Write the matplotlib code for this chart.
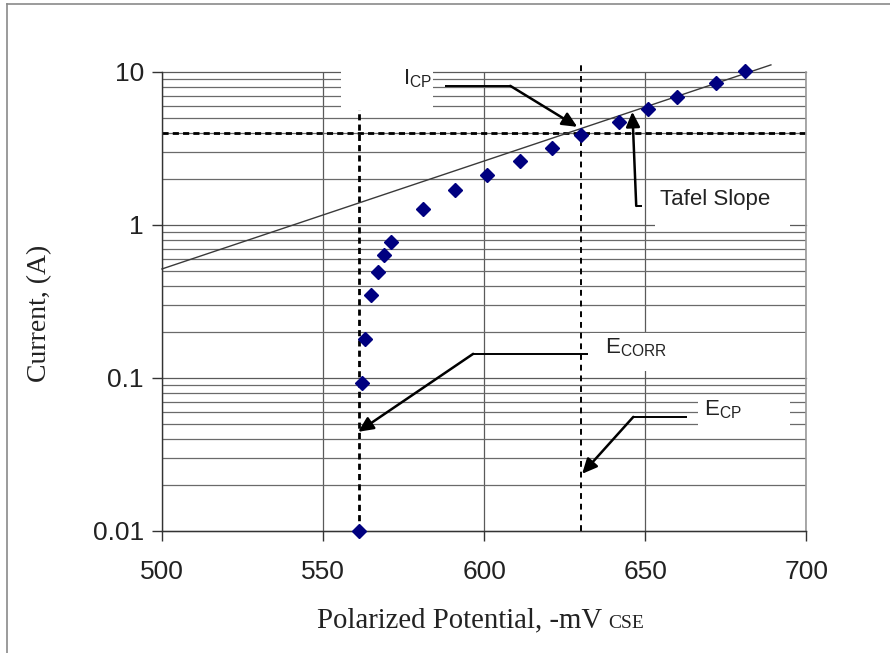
import numpy as np
import matplotlib
matplotlib.use('Agg')
import matplotlib.pyplot as plt
from matplotlib.patches import Rectangle
from matplotlib.lines import Line2D
from matplotlib.ticker import FixedLocator, FuncFormatter

plt.rcParams['font.family'] = ['Liberation Sans', 'DejaVu Sans']
plt.rcParams['mathtext.fontset'] = 'custom'
plt.rcParams['mathtext.rm'] = 'Liberation Sans'
plt.rcParams['mathtext.it'] = 'Liberation Sans'

# measured polarization data
potential_mv = [561, 562, 563, 565, 567, 569, 571, 581, 591, 601, 611, 621, 630, 642, 651, 660, 672, 681]
current_a = [0.01, 0.093, 0.18, 0.35, 0.49, 0.64, 0.77, 1.27, 1.69, 2.12, 2.62, 3.18, 3.87, 4.71, 5.73,
             6.87, 8.47, 10.1]

# tafel line end points
tafel_mv = [500, 689]
tafel_a = [0.515, 11.1]

# characteristic values
e_corr = 561
e_cp = 630
i_cp = 4.0
dash_top = 11.45

x_ticks = [500, 550, 600, 650, 700]
y_ticks = [0.01, 0.1, 1, 10]

# label boxes that hide the grid (x0, x1, y0, y1)
box_icp = (555.6, 584.2, 5.64, 11.6)
box_tafel = (653.1, 695.0, 0.94, 1.91)
box_ecorr = (633.0, 700.0, 0.111, 0.197)
box_ecp = (666.5, 695.0, 0.0457, 0.0775)

# leader lines: (start, knee, tip)
icp_path = [(587.9, 8.1), (608.1, 8.1), (628.9, 4.37)]
ecorr_path = [(632.3, 0.1436), (596.6, 0.1436), (560.9, 0.0444)]
ecp_path = [(663.0, 0.0556), (646.3, 0.0556), (630.4, 0.0236)]
tafel_path = [(649.1, 1.33), (647.2, 1.33), (646.0, 5.48)]

fig = plt.figure(figsize=(8.9, 6.53), dpi=100)
ax = fig.add_axes([0.182, 0.187, 0.724, 0.703])
ax.set_yscale('log')
ax.set_xlim(500, 700)
ax.set_ylim(0.01, 10)

# grid
minor_vals = [m * 10.0 ** d for d in (-2, -1, 0) for m in range(2, 10)]
ax.yaxis.set_major_locator(FixedLocator(y_ticks))
ax.yaxis.set_minor_locator(FixedLocator(minor_vals))
ax.xaxis.set_major_locator(FixedLocator(x_ticks))
ax.yaxis.set_major_formatter(FuncFormatter(lambda v, p: '%g' % v))
ax.grid(True, which='major', axis='both', color='#5a5a5a', lw=0.9)
ax.grid(True, which='minor', axis='y', color='#6a6a6a', lw=0.9)
ax.set_axisbelow(True)
for gl in ax.get_ygridlines():
    gl.set_clip_on(False)

ax.tick_params(axis='both', which='major', direction='out', length=7, width=1, color='#333333',
               labelsize=19, labelcolor='#222222', pad=6)
ax.tick_params(axis='y', which='minor', length=0)
ax.tick_params(axis='x', pad=14)
ax.spines['top'].set_visible(False)
ax.spines['right'].set_color('#999999')
ax.spines['right'].set_linewidth(1.2)
for s in ('left', 'bottom'):
    ax.spines[s].set_color('#333333')
    ax.spines[s].set_linewidth(1.0)

# dashed reference lines
ax.plot([500, 700], [i_cp, i_cp], color='k', lw=2.0, ls=(0, (2.2, 1.5)), zorder=1.2, clip_on=False)
ax.plot([e_corr, e_corr], [0.01, dash_top], color='k', lw=2.0, ls=(0, (2.2, 1.5)), zorder=1.2, clip_on=False)
ax.plot([e_cp, e_cp], [0.01, dash_top], color='k', lw=1.4, ls=(0, (3, 2.5)), zorder=1.2, clip_on=False)

# white label boxes
for x0, x1, y0, y1 in (box_icp, box_tafel, box_ecorr, box_ecp):
    ax.add_patch(Rectangle((x0, y0), x1 - x0, y1 - y0, facecolor='white', edgecolor='none',
                           zorder=1.5, clip_on=False))

# tafel line and data
ax.plot(tafel_mv, tafel_a, color='#3a3a3a', lw=1.0, zorder=2, clip_on=False)
ax.plot(potential_mv, current_a, ls='none', marker='D', ms=7.5, color='#000080', zorder=3, clip_on=False)

# leader lines with arrows
for path in (icp_path, ecorr_path, ecp_path, tafel_path):
    (xa, ya), (xb, yb), tip = path
    ax.plot([xa, xb], [ya, yb], color='k', lw=1.4, zorder=4, solid_capstyle='butt')
    ax.annotate('', xy=tip, xytext=(xb, yb),
                arrowprops=dict(arrowstyle='-|>,head_length=0.6,head_width=0.28', color='k', lw=1.8,
                                mutation_scale=15, shrinkA=0, shrinkB=0), zorder=4)

ax.text(574.8, 9.0, r'I$_{\rm CP}$', fontsize=16, color='#222222', va='center', ha='left', zorder=5)
ax.text(654.7, 1.46, 'Tafel Slope', fontsize=16, color='#222222', va='center', ha='left', zorder=5)
ax.text(637.6, 0.157, r'E$_{\rm CORR}$', fontsize=16, color='#222222', va='center', ha='left', zorder=5)
ax.text(668.3, 0.0618, r'E$_{\rm CP}$', fontsize=16, color='#222222', va='center', ha='left', zorder=5)

# axis titles
serif = ['Liberation Serif', 'DejaVu Serif']
fig.text(0.045, 0.52, 'Current, (A)', rotation=90, fontsize=20, family=serif, color='#222222',
         ha='center', va='center')
xl = fig.text(0.356, 0.039, 'Polarized Potential, -mV', fontsize=20.7, family=serif, color='#222222',
              ha='left', va='baseline')
fig.canvas.draw()
bb = xl.get_window_extent()
fig.text((bb.x1 + 6) / fig.bbox.width, 0.039, 'CSE', fontsize=14, family=serif, color='#222222',
         ha='left', va='baseline')

# outer frame (left and top edges only visible)
fig.add_artist(Line2D([7 / 890, 7 / 890], [0, 1 - 4 / 653], color='#8a8a8a', lw=1.2))
fig.add_artist(Line2D([7 / 890, 1], [1 - 4 / 653, 1 - 4 / 653], color='#8a8a8a', lw=1.2))

fig.savefig('out.png', dpi=100, facecolor='white')
